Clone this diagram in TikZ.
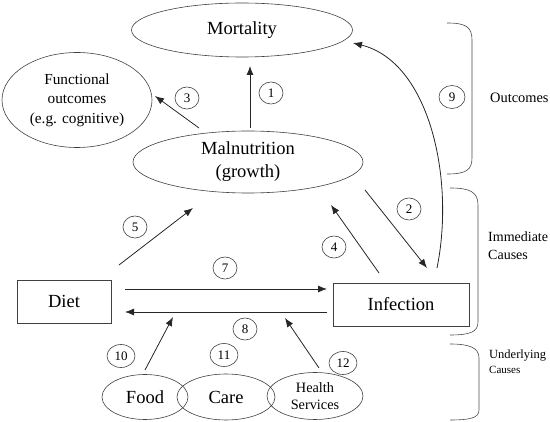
\documentclass[tikz,border=0pt]{standalone}
\usepackage{fontspec}
\setmainfont{Liberation Serif}
\usetikzlibrary{arrows.meta,shapes.geometric}
\begin{document}
\begin{tikzpicture}[x=1pt,y=-1pt,
  ell/.style={ellipse,draw=black!75,line width=0.6pt,inner sep=0pt,align=center},
  box/.style={rectangle,draw=black!75,line width=0.6pt,inner sep=0pt},
  num/.style={ellipse,draw=black!75,line width=0.6pt,inner sep=0pt,minimum width=24pt,minimum height=22pt,font=\fontsize{13}{15}\selectfont},
  numw/.style={num,minimum width=28pt,minimum height=23pt},
  arr/.style={draw=black!85,line width=0.8pt,-{Latex[length=9pt,width=7pt]}},
  bracket/.style={draw=black!70,line width=0.6pt},
  big/.style={font=\fontsize{18.5}{23}\selectfont},
  mid/.style={font=\fontsize{15.3}{19.5}\selectfont},
  small/.style={font=\fontsize{14.3}{17}\selectfont},
  side/.style={anchor=west,inner sep=0pt,align=left}
]
\useasboundingbox (0,0) rectangle (550,422);

% main nodes
\node[ell,big,minimum width=221pt,minimum height=54pt] (mort) at (242,30) {Mortality};
\node[ell,mid,minimum width=150pt,minimum height=95pt] (func) at (77,100) {Functional\\outcomes\\(e.g. cognitive)};
\node[ell,big,minimum width=230pt,minimum height=62pt] (maln) at (248,162) {Malnutrition\\(growth)};
\node[box,big,minimum width=94pt,minimum height=43pt] (diet) at (64,301.5) {Diet};
\node[box,big,minimum width=136pt,minimum height=43pt] (inf) at (401,304.5) {Infection};
\node[ell,big,minimum width=86pt,minimum height=45pt] (food) at (145,397) {Food};
\node[ell,big,minimum width=98pt,minimum height=46pt] (care) at (226,397) {Care};
\node[ell,small,minimum width=96pt,minimum height=47pt] (health) at (315,396) {Health\\Services};

% number labels
\node[num] (n1) at (271,93) {1};
\node[num] (n2) at (409,209) {2};
\node[num] (n3) at (187,98) {3};
\node[num] (n4) at (334,247) {4};
\node[num] (n5) at (135,227) {5};
\node[num] (n7) at (225,268) {7};
\node[num] (n8) at (245,329) {8};
\node[num,minimum width=26pt,minimum height=23pt] (n9) at (452,97) {9};
\node[numw] (n10) at (121,356) {10};
\node[numw] (n11) at (224,355) {11};
\node[numw] (n12) at (343,363) {12};

% arrow end points
\coordinate (a1s) at (250,128); \coordinate (a1e) at (250,66);
\coordinate (a3s) at (199,128); \coordinate (a3e) at (155,96);
\coordinate (a2s) at (365,190); \coordinate (a2e) at (427,268);
\coordinate (a4s) at (379,273); \coordinate (a4e) at (331,205);
\coordinate (a5s) at (119,265); \coordinate (a5e) at (193,208);
\coordinate (a7s) at (125,289); \coordinate (a7e) at (327,289);
\coordinate (a8s) at (327,312); \coordinate (a8e) at (125,312);
\coordinate (a10s) at (145,370); \coordinate (a10e) at (173,317);
\coordinate (a12s) at (319,368); \coordinate (a12e) at (285,318);
\coordinate (a9s) at (437,268); \coordinate (a9e) at (353,43);

\draw[arr] (a1s) -- (a1e);
\draw[arr] (a3s) -- (a3e);
\draw[arr] (a2s) -- (a2e);
\draw[arr] (a4s) -- (a4e);
\draw[arr] (a5s) -- (a5e);
\draw[arr] (a7s) -- (a7e);
\draw[arr] (a8s) -- (a8e);
\draw[arr] (a10s) -- (a10e);
\draw[arr] (a12s) -- (a12e);
\draw[arr] (a9s) .. controls (455,180) and (430,62) .. (a9e);

% brackets
\draw[bracket] (447,23) .. controls (466,23) and (472,27) .. (472,40) -- (472,158) .. controls (472,170) and (466,174) .. (447,174);
\draw[bracket] (450,188) .. controls (470,188) and (478,192) .. (478,205) -- (478,322) .. controls (478,332) and (470,335) .. (450,335);
\draw[bracket] (450,344) .. controls (470,344) and (479,348) .. (479,358) -- (479,410) .. controls (479,418) and (470,420) .. (450,420);

% side texts
\node[side,font=\fontsize{14.4}{17}\selectfont] (tout) at (490,98) {Outcomes};
\node[side,font=\fontsize{14}{18}\selectfont] (timm) at (488,246) {Immediate\\Causes};
\node[side,font=\fontsize{12.5}{14}\selectfont] (tund) at (489,356) {Underlying};
\node[side,font=\fontsize{11}{13}\selectfont] (tcau) at (489,370) {Causes};
\end{tikzpicture}
\end{document}
